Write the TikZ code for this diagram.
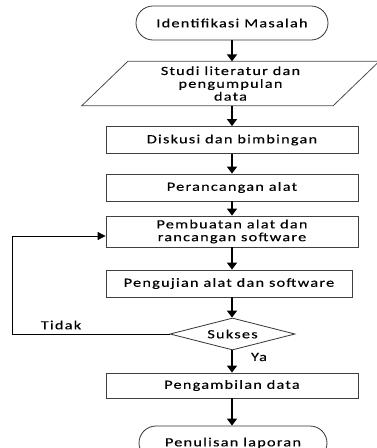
\documentclass[tikz,border=0pt]{standalone}
\usepackage{fontspec}
\setmainfont{Carlito}[FakeStretch=1.3,LetterSpace=10,FakeBold=0.3]
\usetikzlibrary{shapes,arrows.meta}

\begin{document}
\begin{tikzpicture}[x=1pt,y=-1pt,
                    font=\fontsize{12.5}{12.8}\selectfont,
                    terminal/.style= {shape=rounded rectangle, draw=black!80,
                                      line width=0.8pt, minimum width=192pt,
                                      minimum height=34pt, inner sep=0},
                    masukan/.style=  {shape=rectangle, minimum width=251pt,
                                      minimum height=44pt, inner sep=0,
                                      align=center},
                    proses/.style=   {shape=rectangle, draw=black!75,
                                      line width=0.8pt, minimum width=252pt,
                                      minimum height=27pt, inner sep=0,
                                      align=center},
                    keputusan/.style={shape=diamond, draw=black!80, aspect=3.9,
                                      line width=0.8pt, minimum width=125pt,
                                      minimum height=32pt, inner sep=0},
                    panah/.style=    {-{Triangle[width=10pt,length=7pt]},
                                      line width=1.6pt},
                    balik/.style=    {-{Triangle[width=8pt,length=8pt]},
                                      line width=0.8pt}]

\useasboundingbox (0,0) rectangle (376,448);

% langkah-langkah
\node[terminal] (mulai) at (232,23) {Identifikasi Masalah};
\node[masukan] (studi) at (230.5,83.5) {Studi literatur dan\\pengumpulan\\data};
\draw[draw=black!70, line width=0.8pt]
    ([xshift=-23pt]studi.south west) -- ([xshift=23pt]studi.north west)
    -- ([xshift=23pt]studi.north east) -- ([xshift=-23pt]studi.south east) -- cycle;
\node[proses] (diskusi) at (232,140) {Diskusi dan bimbingan};
\node[proses] (rancang) at (232,187.5) {Perancangan alat};
\node[proses, minimum height=31pt] (buat) at (232,231.5) {Pembuatan alat dan\\rancangan software};
\node[proses, minimum width=246pt] (uji) at (229,283.5) {Pengujian alat dan software};
\node[keputusan] (sukses) at (232.5,334) {Sukses};
\node[proses, minimum height=25pt] (ambil) at (232,385.5) {Pengambilan data};
\node[terminal, minimum width=188pt] (tulis) at (233,443) {Penulisan laporan};

\node (tidak) at (61,325) {Tidak};
\node (ya) at (259,357) {Ya};
\coordinate (kiri) at (12,236);

% panah
\draw[panah] (mulai.south) -- (mulai.south |- studi.north);
\draw[panah] (mulai.south |- studi.south) -- (mulai.south |- diskusi.north);
\draw[panah] (diskusi.south) -- (rancang.north);
\draw[panah] (rancang.south) -- (buat.north);
\draw[panah] (buat.south) -- (buat.south |- uji.north);
\draw[panah] (buat.south |- uji.south) -- (buat.south |- sukses.north);
\draw[panah] (buat.south |- sukses.south) -- (ambil.north);
\draw[panah] (ambil.south) -- (ambil.south |- tulis.north);
\draw[balik] (sukses.west) -| (kiri) -- (kiri -| buat.west);

\end{tikzpicture}
\end{document}
